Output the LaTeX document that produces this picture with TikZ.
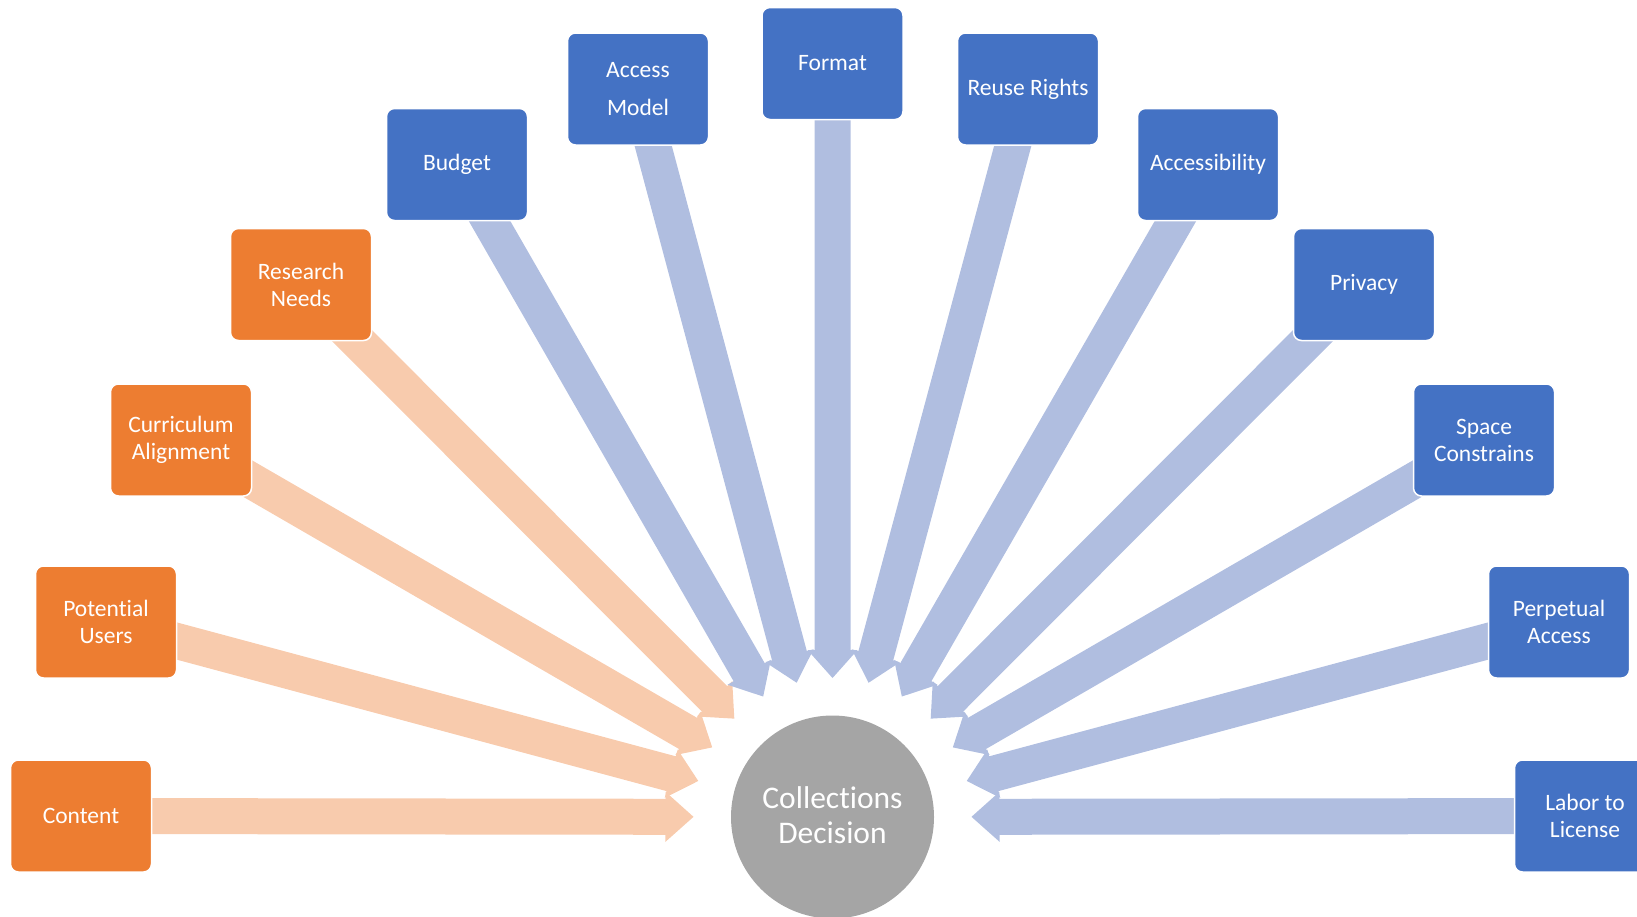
\documentclass[tikz,border=0pt]{standalone}
\usepackage{fontspec}
\setmainfont[Ligatures=NoCommon]{Carlito}
\usetikzlibrary{calc}
\definecolor{boxorange}{HTML}{ED7D31}
\definecolor{boxblue}{HTML}{4472C4}
\definecolor{arroworange}{HTML}{F8CBAD}
\definecolor{arrowblue}{HTML}{B0BEE0}
\definecolor{hubgray}{HTML}{A5A5A5}
\pgfdeclarelayer{bg}
\pgfsetlayers{bg,main}
% block arrow from a box towards the hub, tip on a ring around the hub
\newcommand\spoke[2]{%
  \path ($(dec.center)!139pt!(#1.center)$) coordinate (T)
        ($(T)!28pt!(#1.center)$) coordinate (H);
  \fill[#2] ($(#1.center)!18pt!90:(T)$) -- ($(H)!18pt!90:(T)$)
    -- ($(H)!25pt!90:(T)$) -- (T) -- ($(H)!25pt!-90:(T)$)
    -- ($(H)!18pt!-90:(T)$) -- ($(#1.center)!18pt!-90:(T)$) -- cycle;}
\begin{document}
\begin{tikzpicture}[x=1pt,y=-1pt,
  factor/.style={rounded corners=8pt, draw=white, line width=1.5pt,
    minimum width=141pt, minimum height=112pt, align=center, text=white,
    inner sep=2pt, font=\fontsize{23.5}{27}\selectfont},
  orangebox/.style={factor, fill=boxorange},
  bluebox/.style={factor, fill=boxblue}]
\useasboundingbox (0,0) rectangle (1637,916);
\clip (0,0) rectangle (1637,916);

% central hub and its label
\node[circle, fill=hubgray, minimum size=203pt, inner sep=0pt] (dec) at (832.5,817) {};
\node[align=center, text=white, font=\fontsize{31.5}{34.5}\selectfont]
  (declabel) at ([yshift=2pt]dec.center) {Collections\\Decision};

% factors
\node[orangebox] (content)    at (81,816)    {Content};
\node[orangebox] (users)      at (106,622)   {Potential\\Users};
\node[orangebox] (curriculum) at (181,440)   {Curriculum\\Alignment};
\node[orangebox] (research)   at (301,284.5) {Research\\Needs};
\node[bluebox]   (budget)     at (457,164.5) {Budget};
\node[bluebox, font=\fontsize{23.5}{37.5}\selectfont]
                 (access)     at (638,89)    {Access\\Model};
\node[bluebox]   (format)     at (832.5,63.5) {Format};
\node[bluebox]   (reuse)      at (1028,89)   {Reuse Rights};
\node[bluebox]   (accessib)   at (1208,164.5) {Accessibility};
\node[bluebox]   (privacy)    at (1364,284.5) {Privacy};
\node[bluebox]   (space)      at (1484,440)  {Space\\Constrains};
\node[bluebox]   (perpetual)  at (1559,622)  {Perpetual\\Access};
\node[bluebox]   (labor)      at (1585,816)  {Labor to\\License};

\begin{pgfonlayer}{bg}
  \foreach \n in {content,users,curriculum,research}
    {\spoke{\n}{arroworange}}
  \foreach \n in {budget,access,format,reuse,accessib,privacy,space,perpetual,labor}
    {\spoke{\n}{arrowblue}}
\end{pgfonlayer}
\end{tikzpicture}
\end{document}
